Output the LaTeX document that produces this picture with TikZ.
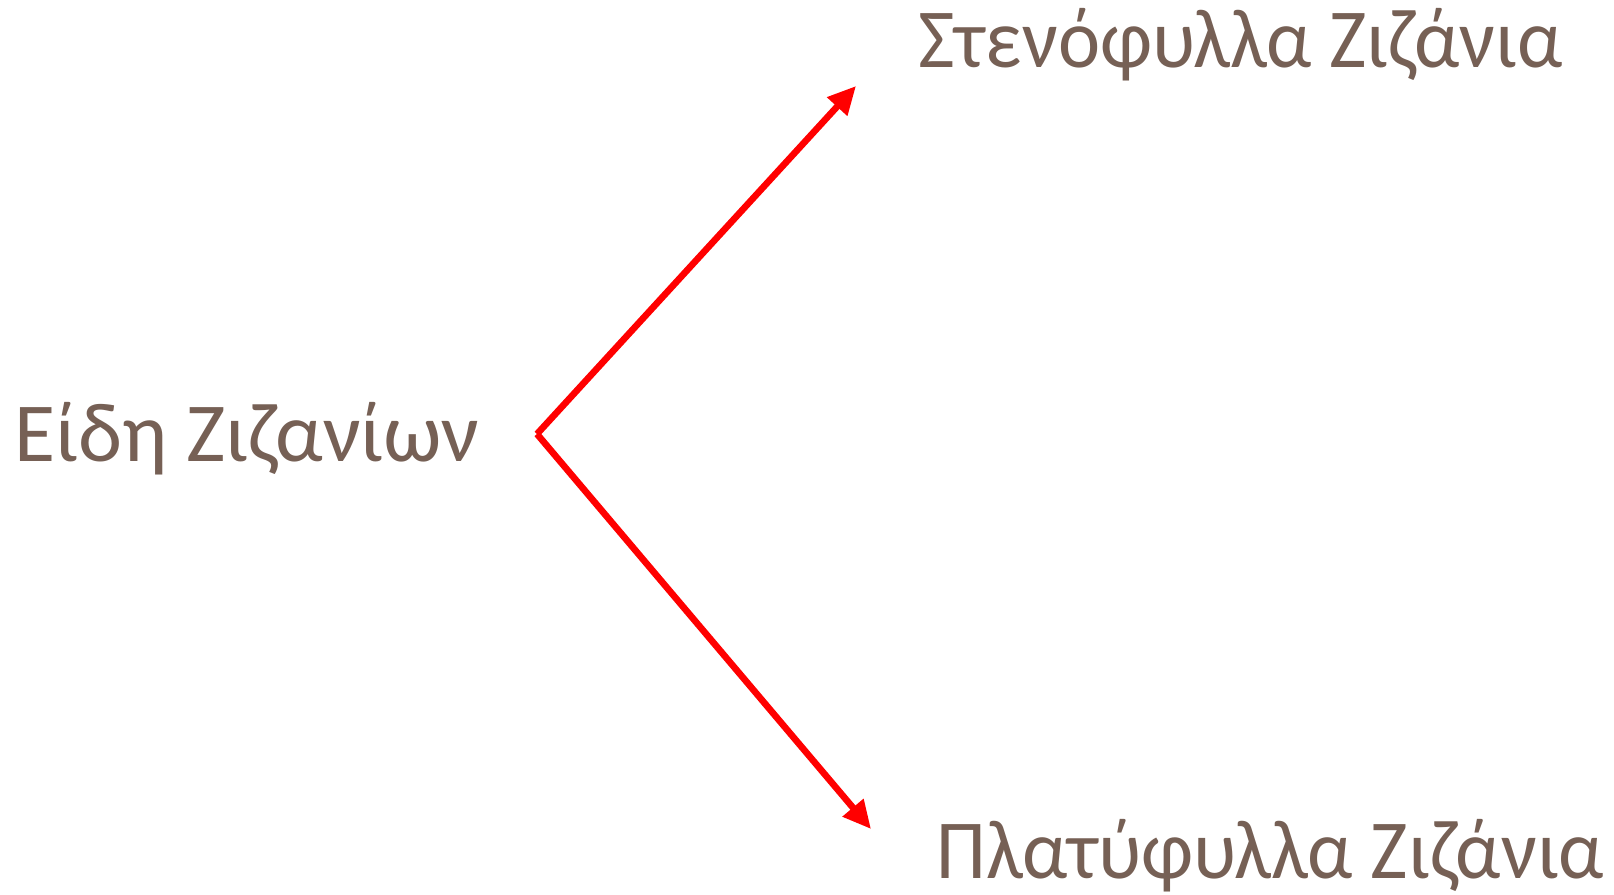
\documentclass[tikz,border=0pt]{standalone}
\usepackage{fontspec}
\setmainfont{Carlito}
\newfontfamily\narrowfont[FakeStretch=0.95]{Carlito}
\usetikzlibrary{arrows.meta}
\definecolor{weedbrown}{RGB}{118,96,85}
\begin{document}
\begin{tikzpicture}[x=0.5pt,y=-0.5pt,
    label/.style={anchor=base west,inner sep=0pt,text=weedbrown,font=\fontsize{42}{50}\selectfont},
    kind/.style={label,font=\narrowfont\fontsize{42}{50}\selectfont},
    branch/.style={draw=red,line width=3.3pt,-{Triangle[length=14pt,width=13pt]}}]

% ============================================
% Bounding box
% ============================================
\useasboundingbox (0,0) rectangle (1614,895);

% ============================================
% Labels
% ============================================
        \node[label] (weeds) at (14,461) {Είδη Ζιζανίων};
        \node[kind] (narrow) at (918,67) {Στενόφυλλα Ζιζάνια};
        \node[kind] (broad) at (936,878) {Πλατύφυλλα Ζιζάνια};

% ============================================
% Arrows
% ============================================
        % Coordinates
        \coordinate (fork) at (537,434);
        \coordinate (narrowtip) at (856,86);
        \coordinate (broadtip) at (871,829);
        % Branches
        \draw[branch] (fork) -- (narrowtip);
        \draw[branch] (fork) -- (broadtip);
\end{tikzpicture}
\end{document}
